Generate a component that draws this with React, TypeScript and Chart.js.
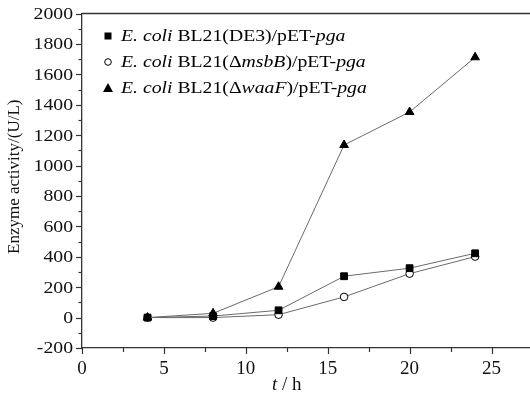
import React, { useEffect, useRef } from "react";
import { Chart, registerables } from "chart.js";
Chart.register(...registerables);

const hours = [4, 8, 12, 16, 20, 24];
const de3 = [0, 10, 48, 272, 325, 423];
const msbB = [0, 0, 19, 136, 289, 401];
const waaF = [0, 28, 203, 1135, 1352, 1712];

const yMin = -200;
const yMax = 2000;
const yStep = 200;
const xMin = 0;
const xMax = 27.35;

const legendRows: [boolean, string][][] = [
  [[true, "E. coli"], [false, " BL21(DE3)/pET-"], [true, "pga"]],
  [[true, "E. coli"], [false, " BL21(\u0394"], [true, "msbB"], [false, ")/pET-"], [true, "pga"]],
  [[true, "E. coli"], [false, " BL21(\u0394"], [true, "waaF"], [false, ")/pET-"], [true, "pga"]],
];
const legendShapes = ["rect", "circle", "triangle"];
const yTitle = "Enzyme activity/(U/L)";

const SERIF = '"Liberation Serif", "Times New Roman", serif';
const STRETCH = 1.16;

const decorPlugin = {
  id: "decor",
  afterDraw(chart: any) {
    const ctx = chart.ctx;
    const xs = chart.scales.x;
    const ys = chart.scales.y;
    const area = chart.chartArea;
    ctx.save();
    ctx.strokeStyle = "#333";
    ctx.lineWidth = 1.3;
    // top border
    ctx.beginPath();
    ctx.moveTo(area.left, area.top);
    ctx.lineTo(area.right, area.top);
    ctx.stroke();
    // y ticks
    ctx.lineWidth = 1.2;
    for (let v = yMin; v <= yMax; v += yStep / 2) {
      const p = Math.round(ys.getPixelForValue(v)) + 0.5;
      const len = v % yStep === 0 ? 6 : 3.5;
      ctx.beginPath();
      ctx.moveTo(area.left, p);
      ctx.lineTo(area.left - len, p);
      ctx.stroke();
    }
    for (let v = xMin; v <= xMax; v += 2.5) {
      const p = Math.round(xs.getPixelForValue(v)) + 0.5;
      const len = v % 5 === 0 ? 6 : 4;
      ctx.beginPath();
      ctx.moveTo(p, area.bottom);
      ctx.lineTo(p, area.bottom + len);
      ctx.stroke();
    }
    // y tick labels (slightly wide, as in the reference)
    ctx.fillStyle = "#111";
    ctx.font = `17px ${SERIF}`;
    ctx.textAlign = "right";
    ctx.textBaseline = "middle";
    for (let v = yMin; v <= yMax; v += yStep) {
      const p = ys.getPixelForValue(v);
      ctx.save();
      ctx.translate(area.left - 9, p + 1);
      ctx.scale(STRETCH, 1);
      ctx.fillText(String(v), 0, 0);
      ctx.restore();
    }
    // y title
    ctx.font = `17px ${SERIF}`;
    ctx.textAlign = "center";
    ctx.textBaseline = "middle";
    ctx.save();
    ctx.translate(15, (area.top + area.bottom) / 2 - 4);
    ctx.rotate(-Math.PI / 2);
    ctx.fillText(yTitle, 0, 0);
    ctx.restore();
    // x title
    const cx = xs.getPixelForValue(12.5);
    ctx.textBaseline = "alphabetic";
    ctx.textAlign = "left";
    ctx.font = `italic 19px ${SERIF}`;
    const tW = ctx.measureText("t").width;
    ctx.font = `19px ${SERIF}`;
    const rest = " / h";
    const rW = ctx.measureText(rest).width;
    const start = cx - (tW + rW) / 2;
    ctx.font = `italic 19px ${SERIF}`;
    ctx.fillText("t", start, 390);
    ctx.font = `19px ${SERIF}`;
    ctx.fillText(rest, start + tW, 390);
    // legend
    const lx = 108;
    const tx = 121;
    const rowY = [36, 62, 88];
    legendRows.forEach((row, i) => {
      const y = rowY[i];
      ctx.fillStyle = "#000";
      ctx.strokeStyle = "#000";
      ctx.lineWidth = 1;
      const shape = legendShapes[i];
      if (shape === "rect") {
        ctx.fillRect(lx - 3.5, y - 3.5, 7, 7);
      } else if (shape === "circle") {
        ctx.beginPath();
        ctx.arc(lx, y, 3.3, 0, Math.PI * 2);
        ctx.fillStyle = "#fff";
        ctx.fill();
        ctx.stroke();
      } else {
        ctx.beginPath();
        ctx.moveTo(lx, y - 5);
        ctx.lineTo(lx + 5, y + 4);
        ctx.lineTo(lx - 5, y + 4);
        ctx.closePath();
        ctx.fill();
      }
      ctx.fillStyle = "#000";
      ctx.textBaseline = "middle";
      ctx.textAlign = "left";
      ctx.save();
      ctx.translate(tx, y + 1);
      ctx.scale(STRETCH, 1);
      let x = 0;
      row.forEach(([it, s]) => {
        ctx.font = `${it ? "italic " : ""}17px ${SERIF}`;
        ctx.fillText(s, x, 0);
        x += ctx.measureText(s).width;
      });
      ctx.restore();
    });
    ctx.restore();
  },
};

function toPts(vals: number[]) {
  return hours.map((h, i) => ({ x: h, y: vals[i] }));
}

export default function App() {
  const ref = useRef<HTMLCanvasElement>(null);
  useEffect(() => {
    const common = {
      borderColor: "#6a6a6a",
      borderWidth: 1,
      pointBorderColor: "#000",
      pointBorderWidth: 1,
      tension: 0,
    };
    const chart = new Chart(ref.current!, {
      type: "line",
      data: {
        datasets: [
          { ...common, label: "waaF", data: toPts(waaF), pointStyle: "triangle", pointRadius: 5, pointBackgroundColor: "#000" },
          { ...common, label: "DE3", data: toPts(de3), pointStyle: "rect", pointRadius: 4.8, pointBackgroundColor: "#000" },
          { ...common, label: "msbB", data: toPts(msbB), pointStyle: "circle", pointRadius: 3.8, pointBackgroundColor: "#fff" },
        ],
      },
      options: {
        animation: false,
        responsive: false,
        maintainAspectRatio: false,
        layout: { autoPadding: false, padding: { top: 13.5, right: 0, left: 0, bottom: 0 } },
        plugins: { legend: { display: false }, tooltip: { enabled: false } },
        scales: {
          x: {
            type: "linear",
            min: xMin,
            max: xMax,
            ticks: {
              stepSize: 5,
              includeBounds: false,
              padding: 10,
              color: "#111",
              font: { family: SERIF, size: 19 },
              maxRotation: 0,
            },
            grid: { drawOnChartArea: false, drawTicks: false },
            border: { color: "#333", width: 1.3 },
            afterFit: (s: any) => { s.height = 51; s.paddingRight = 0; s.paddingLeft = 0; },
          },
          y: {
            type: "linear",
            min: yMin,
            max: yMax,
            ticks: { stepSize: yStep, display: false },
            grid: { drawOnChartArea: false, drawTicks: false },
            border: { color: "#333", width: 1.3 },
            afterFit: (s: any) => { s.width = 82; s.paddingTop = 0; s.paddingBottom = 0; },
          },
        },
      },
      plugins: [decorPlugin],
    } as any);
    return () => chart.destroy();
  }, []);
  return (
    <div style={{ position: "fixed", left: 0, top: 0, width: 530, height: 399, background: "#fff" }}>
      <canvas ref={ref} width={530} height={399} style={{ display: "block" }} />
    </div>
  );
}
